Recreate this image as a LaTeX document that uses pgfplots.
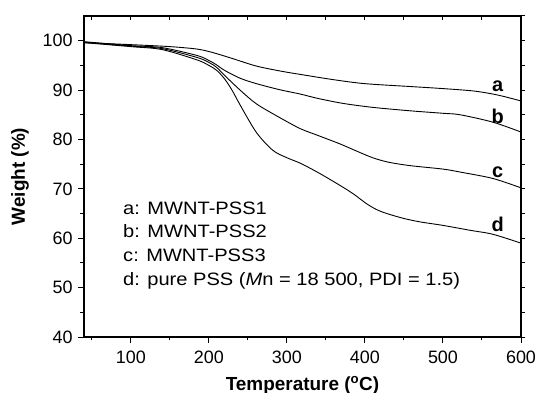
\documentclass[border=0pt]{standalone}
\usepackage{pgfplots}
\pgfplotsset{compat=1.18}
\usepackage{fontspec}
\setmainfont{Liberation Sans}
\usepackage{graphicx}
\begin{document}
\begin{tikzpicture}
\begin{axis}[name=ax, at={(0,0)}, anchor=south west, scale only axis,
  width=437bp, height=321bp,
  xmin=40, xmax=600, ymin=40, ymax=105,
  xtick={100,200,...,600}, minor xtick={50,150,...,550},
  ytick={40,50,...,100}, minor ytick={45,55,...,95},
  xtick pos=left, ytick pos=left, tick align=outside,
  major tick length=6bp, minor tick length=3.5bp,
  every tick/.style={black, line width=1bp},
  axis line style={line width=1.2bp},
  ticklabel style={font=\fontsize{18}{20}\selectfont},
  xticklabel style={yshift=-4bp},
  yticklabel style={xshift=-2bp},
  /pgf/number format/assume math mode=true,
  xlabel={Temperature (\textsuperscript{o}C)},
  ylabel={Weight (\%)},
  label style={font=\fontsize{19}{22}\selectfont\bfseries},
  xlabel style={at={([yshift=-53bp]axis description cs:0.5,0)}, anchor=base},
  ylabel style={at={([xshift=-64bp]axis description cs:0,0.5)}, anchor=center},
  cycle list={{black, line width=0.9bp, smooth, no markers}},
]
% a
\addplot[black, line width=0.9bp, smooth, no markers] coordinates {(40,99.6)(100,99.2)(150,98.8)(185,98.3)(205,97.6)(230,96.4)(260,94.9)(290,93.9)(320,93.1)(360,92.1)(400,91.3)(460,90.7)(500,90.3)(540,89.8)(570,89.0)(600,87.8)};
% b
\addplot[black, line width=0.9bp, smooth, no markers] coordinates {(40,99.8)(100,99.0)(140,98.6)(185,97.0)(200,96.0)(210,95.1)(220,94.0)(240,92.4)(261,91.3)(290,90.1)(317,89.2)(340,88.3)(372,87.3)(410,86.5)(458,85.8)(500,85.3)(522,85.0)(564,83.5)(600,81.5)};
% c
\addplot[black, line width=0.9bp, smooth, no markers] coordinates {(40,99.7)(100,98.9)(140,98.4)(185,96.6)(200,95.6)(210,94.6)(220,93.0)(240,90.0)(261,87.2)(290,84.5)(317,82.2)(340,80.8)(368,79.1)(390,77.6)(410,76.3)(430,75.4)(458,74.7)(500,74.0)(522,73.4)(564,72.1)(600,70.2)};
% d
\addplot[black, line width=0.9bp, smooth, no markers] coordinates {(40,99.6)(100,98.8)(140,98.2)(185,96.1)(200,95.0)(210,94.0)(220,92.3)(230,89.9)(240,87.0)(261,81.4)(282,77.8)(300,76.3)(317,75.2)(340,73.3)(368,70.7)(385,69.0)(402,67.0)(415,65.8)(428,65.0)(450,64.0)(471,63.3)(500,62.6)(535,61.6)(564,60.8)(600,59.0)};
\begin{scope}[font=\fontsize{20}{22}\selectfont\bfseries]
\node[anchor=base] at (axis cs:570,89.76) {a};
\node[anchor=base] at (axis cs:570,83.2) {b};
\node[anchor=base] at (axis cs:570,72.3) {c};
\node[anchor=base] at (axis cs:570,61.3) {d};
\end{scope}
\begin{scope}[font=\fontsize{18}{20}\selectfont]
\node[anchor=base west, inner sep=0pt] at (axis cs:90,64.85) {\scalebox{1.12}[1]{a: MWNT-PSS1}};
\node[anchor=base west, inner sep=0pt] at (axis cs:90,60.1) {\scalebox{1.12}[1]{b: MWNT-PSS2}};
\node[anchor=base west, inner sep=0pt] at (axis cs:90,55.3) {\scalebox{1.12}[1]{c: MWNT-PSS3}};
\node[anchor=base west, inner sep=0pt] at (axis cs:90,50.5) {\scalebox{1.12}[1]{d: pure PSS (\textit{M}n = 18 500, PDI = 1.5)}};
\end{scope}
\end{axis}
\begin{axis}[at={(0,0)}, anchor=south west, scale only axis,
  width=437bp, height=321bp,
  xmin=40, xmax=600, ymin=40, ymax=105,
  xtick={50,100,...,600}, ytick={40,45,...,105},
  xtick pos=right, ytick pos=right, xtick align=inside, ytick align=outside,
  xticklabels={}, yticklabels={},
  major tick length=4bp,
  every tick/.style={black, line width=1bp},
  axis line style={line width=1.2bp},
]
\end{axis}
\pgfresetboundingbox
\path (-84bp,-56bp) rectangle (455bp,337bp);
\end{tikzpicture}
\end{document}
